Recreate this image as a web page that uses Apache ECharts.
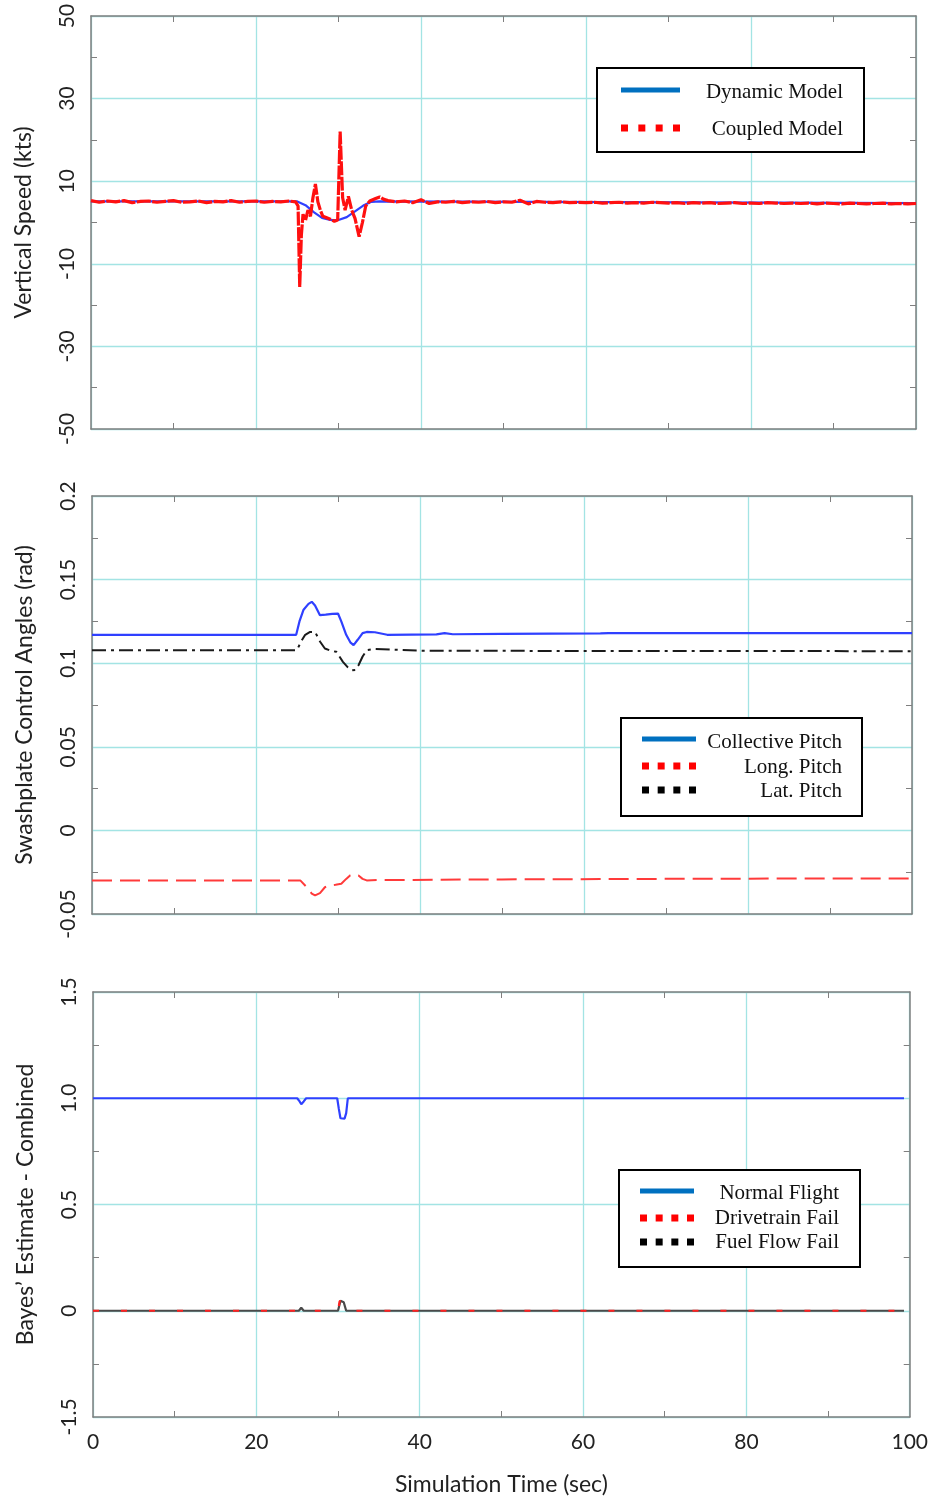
<!DOCTYPE html>
<html>
<head>
<meta charset="utf-8">
<script src="https://cdn.jsdelivr.net/npm/echarts@6/dist/echarts.min.js"></script>
<style>
html,body{margin:0;padding:0;background:#fff}
#chart{width:931px;height:1500px}
</style>
</head>
<body>
<div id="chart"></div>
<script>
// ---------- Panel 1: vertical speed (kts) ----------
const speedTicks = ['-50', '-30', '-10', '10', '30', '50'];
const dynamicModel = [
  [0, 5.1], [25, 5.1], [26, 4.2], [27, 2.5], [28, 1.1], [29, 0.6], [30, 0.6],
  [31, 1.3], [32, 2.7], [33, 4.1], [34, 5.0], [35, 5.1], [100, 4.7]
];
const coupledModel = [
  [0, 5.3], [1, 4.9], [2, 5.2], [3, 5.0], [4, 5.3], [5, 4.8], [6, 5.1], [7, 5.2], [8, 4.9],
  [9, 5.1], [10, 5.3], [11, 4.9], [12, 5.0], [13, 5.2], [14, 4.8], [15, 5.1], [16, 5.0],
  [17, 5.3], [18, 4.9], [19, 5.1], [20, 5.2], [21, 4.9], [22, 5.1], [23, 5.0], [24, 5.2],
  [24.8, 5.0], [25.1, 4.0], [25.3, -15.6], [25.5, -3], [25.7, 2], [26.0, 0.5], [26.3, 3],
  [26.6, 1.5], [26.9, 6], [27.2, 9.3], [27.5, 5], [27.8, 3], [28.1, 1.5], [28.5, 1.2],
  [29.0, 0.8], [29.5, 0.3], [29.9, 0.6], [30.2, 22], [30.5, 6], [30.8, 3], [31.2, 6.3],
  [31.6, 3], [32.0, 1], [32.5, -3.4], [32.9, 0], [33.3, 4], [33.8, 5.2], [34.5, 5.8],
  [35.0, 6.2], [35.5, 5.6], [36, 5.3],
  [37, 5.0], [38, 5.2], [39, 4.8], [40, 5.5], [41, 4.6], [42, 5.0], [43, 4.9], [44, 5.1],
  [45, 4.8], [46, 5.0], [47, 4.9], [48, 5.1], [49, 4.8], [50, 5.0], [51, 4.9], [52, 5.4],
  [53, 4.5], [54, 5.1], [55, 4.9], [56, 4.8], [57, 5.0], [58, 4.8], [59, 4.9], [60, 4.8],
  [61, 4.9], [62, 4.7], [63, 4.8], [64, 4.9], [65, 4.7], [66, 4.8], [67, 4.7], [68, 4.9],
  [69, 4.8], [70, 4.7], [71, 4.8], [72, 4.6], [73, 4.8], [74, 4.7], [75, 4.8], [76, 4.6],
  [77, 4.7], [78, 4.8], [79, 4.6], [80, 4.7], [81, 4.6], [82, 4.8], [83, 4.7], [84, 4.6],
  [85, 4.7], [86, 4.6], [87, 4.7], [88, 4.5], [89, 4.7], [90, 4.6], [91, 4.5], [92, 4.7],
  [93, 4.6], [94, 4.5], [95, 4.6], [96, 4.7], [97, 4.5], [98, 4.6], [99, 4.5], [100, 4.6]
];

// ---------- Panel 2: swashplate control angles (rad) ----------
const angleTicks = ['-0.05', '0', '0.05', '0.1', '0.15', '0.2'];
const collectivePitch = [
  [0, 0.117], [24.9, 0.117], [25.3, 0.125], [25.8, 0.132], [26.4, 0.1355], [26.8, 0.1367],
  [27.2, 0.1345], [27.8, 0.1287], [28.5, 0.129], [29.3, 0.1295], [30.0, 0.1297],
  [30.4, 0.125], [31.0, 0.117], [31.5, 0.1125], [31.9, 0.1108], [32.4, 0.114],
  [33.0, 0.118], [33.5, 0.1187], [34.5, 0.1185], [36, 0.117], [42, 0.1172], [43, 0.118],
  [44, 0.1173], [50, 0.1175], [62, 0.1178], [63, 0.118], [100, 0.118]
];
const latPitch = [
  [0, 0.1078], [25.0, 0.1078], [25.5, 0.113], [26.0, 0.117], [26.6, 0.1187], [27.2, 0.1187],
  [27.8, 0.113], [28.4, 0.1088], [29.1, 0.1075], [29.8, 0.1068], [30.6, 0.1008],
  [31.2, 0.0975], [31.7, 0.0958], [32.1, 0.096], [32.5, 0.0988], [33.0, 0.104],
  [33.5, 0.1078], [34.5, 0.1085], [40, 0.1075], [60, 0.1073], [100, 0.1072]
];
const longPitch = [
  [0, -0.0299], [25.4, -0.0299], [26.2, -0.034], [26.8, -0.0378], [27.2, -0.0389],
  [27.8, -0.0375], [28.4, -0.034], [29.0, -0.0329], [29.7, -0.0325], [30.4, -0.0319],
  [31.0, -0.029], [31.5, -0.0268], [31.9, -0.0263], [32.5, -0.027], [33.0, -0.029],
  [33.5, -0.0299], [35, -0.0297], [50, -0.0293], [75, -0.0289], [100, -0.0287]
];

// ---------- Panel 3: Bayes' estimate ----------
const bayesTicks = ['-1.5', '0', '0.5', '1.0', '1.5'];
const normalFlight = [
  [0, 1], [25.0, 1], [25.3, 0.985], [25.5, 0.972], [25.8, 0.985], [26.1, 1], [29.9, 1],
  [30.1, 0.95], [30.3, 0.906], [30.8, 0.904], [31.0, 0.93], [31.2, 1], [99.3, 1]
];
const drivetrainFail = [
  [0, 0], [25.2, 0], [25.5, 0.012], [25.8, 0], [30.0, 0], [30.2, 0.045], [30.5, 0.045],
  [30.8, 0.02], [31.0, 0], [99.3, 0]
];
const fuelFlowFail = [
  [0, 0], [25.2, 0], [25.5, 0.014], [25.8, 0], [30.0, 0], [30.3, 0.047], [30.7, 0.04],
  [31.0, 0], [99.3, 0]
];

// ---------- shared x axis ----------
const timeTicks = ['0', '20', '40', '60', '80', '100'];

// ---------- styling ----------
const FRAME = '#7f7f7f';
const GRIDLINE = '#a3e4e4';
const SANS = 'Lato';
const SERIF = '"Liberation Serif", "Times New Roman", serif';
const BLUE = '#2f40ff';
const LEGEND_BLUE = '#0070c0';

const panels = [
  { left: 91, top: 16, width: 825, height: 413 },
  { left: 92, top: 496, width: 820, height: 418 },
  { left: 93, top: 992, width: 819, height: 425 }
];

function tickLabel(labels, min, step) {
  return v => labels[Math.round((v - min) / step)] ?? '';
}

const xAxes = [];
const yAxes = [];
const yCfg = [
  { min: -50, max: 50, step: 20, labels: speedTicks, name: 'Vertical Speed (kts)' },
  { min: -0.05, max: 0.2, step: 0.05, labels: angleTicks, name: 'Swashplate Control Angles (rad)' },
  { min: -0.5, max: 1.5, step: 0.5, labels: bayesTicks, name: 'Bayes\u2019 Estimate - Combined' }
];

panels.forEach((p, i) => {
  const last = i === panels.length - 1;
  const common = {
    type: 'value', gridIndex: i, min: 0, max: 100, interval: 20,
    axisLine: { show: true, onZero: false, lineStyle: { color: FRAME, width: 1.5 } },
    axisTick: { show: false, inside: true },
    minorTick: { show: true, splitNumber: 2, length: 6, lineStyle: { color: FRAME, width: 1 } }
  };
  xAxes.push(Object.assign({}, common, {
    position: 'bottom',
    splitLine: { show: true, lineStyle: { color: GRIDLINE, width: 1.3 } },
    axisLabel: {
      show: last, margin: 15, color: '#222', fontFamily: SANS, fontSize: 21,
      formatter: tickLabel(timeTicks, 0, 20)
    },
    name: last ? 'Simulation Time (sec)' : '',
    nameLocation: 'middle', nameGap: 56,
    nameTextStyle: { color: '#222', fontFamily: SANS, fontSize: 23 }
  }));
  xAxes.push(Object.assign({}, common, {
    position: 'top', splitLine: { show: false }, axisLabel: { show: false }
  }));

  const c = yCfg[i];
  const ycommon = {
    type: 'value', gridIndex: i, min: c.min, max: c.max, interval: c.step,
    axisLine: { show: true, onZero: false, lineStyle: { color: FRAME, width: 1.5 } },
    axisTick: { show: false, inside: true },
    minorTick: { show: true, splitNumber: 2, length: 6, lineStyle: { color: FRAME, width: 1 } }
  };
  yAxes.push(Object.assign({}, ycommon, {
    position: 'left',
    splitLine: { show: true, lineStyle: { color: GRIDLINE, width: 1.3 } },
    axisLabel: {
      rotate: 90, margin: 13, color: '#222', fontFamily: SANS, fontSize: 21,
      formatter: tickLabel(c.labels, c.min, c.step)
    },
    name: c.name, nameLocation: 'middle', nameRotate: 90, nameGap: 56,
    nameTextStyle: { color: '#222', fontFamily: SANS, fontSize: 23 }
  }));
  yAxes.push(Object.assign({}, ycommon, {
    position: 'right', splitLine: { show: false }, axisLabel: { show: false }
  }));
});

function line(panel, data, color, width, type, z) {
  return {
    type: 'line', xAxisIndex: panel * 2, yAxisIndex: panel * 2, data: data,
    symbol: 'none', smooth: false, z: z || 2,
    lineStyle: { color: color, width: width, type: type || 'solid' }
  };
}

const series = [
  line(0, dynamicModel, BLUE, 2.2, 'solid', 2),
  line(0, coupledModel, '#ff1010', 3.2, [14, 1.5], 3),
  line(1, collectivePitch, BLUE, 2.2, 'solid', 2),
  line(1, latPitch, '#1a1a1a', 2, [14, 5, 3, 5], 3),
  line(1, longPitch, '#ff3a3a', 2, [20, 8], 3),
  line(2, normalFlight, BLUE, 2.2, 'solid', 2),
  line(2, fuelFlowFail, '#4a4a4a', 2.2, 'solid', 3),
  line(2, drivetrainFail, '#ff2020', 2.2, [6, 22], 4)
];

// ---------- legend boxes ----------
function legendBox(box, items) {
  const els = [{
    type: 'rect', shape: { x: box.x, y: box.y, width: box.w, height: box.h },
    style: { fill: '#fff', stroke: '#000', lineWidth: 2 }, z: 100
  }];
  items.forEach(it => {
    if (it.kind === 'solid') {
      els.push({
        type: 'line', shape: { x1: box.sx, y1: it.y, x2: box.sx + box.sw, y2: it.y },
        style: { stroke: LEGEND_BLUE, lineWidth: 5 }, z: 101
      });
    } else {
      const n = 4, size = 7, gap = (box.sw - size) / (n - 1);
      for (let k = 0; k < n; k++) {
        els.push({
          type: 'rect',
          shape: { x: box.sx + k * gap, y: it.y - size / 2, width: size, height: size },
          style: { fill: it.color }, z: 101
        });
      }
    }
    els.push({
      type: 'text', z: 101,
      style: {
        text: it.label, x: box.tx, y: it.ty, align: 'right', verticalAlign: 'middle',
        font: '21px ' + SERIF, fill: '#111'
      }
    });
  });
  return els;
}

const graphic = [].concat(
  legendBox({ x: 597, y: 68, w: 267, h: 84, sx: 621, sw: 59, tx: 843 }, [
    { kind: 'solid', y: 90, ty: 92, label: 'Dynamic Model' },
    { kind: 'dots', color: '#ff0000', y: 128, ty: 129, label: 'Coupled Model' }
  ]),
  legendBox({ x: 621, y: 718, w: 241, h: 98, sx: 642, sw: 54, tx: 842 }, [
    { kind: 'solid', y: 739, ty: 742, label: 'Collective Pitch' },
    { kind: 'dots', color: '#ff0000', y: 766, ty: 767, label: 'Long. Pitch' },
    { kind: 'dots', color: '#000000', y: 790, ty: 791, label: 'Lat. Pitch' }
  ]),
  legendBox({ x: 619, y: 1170, w: 241, h: 97, sx: 640, sw: 54, tx: 839 }, [
    { kind: 'solid', y: 1191, ty: 1193, label: 'Normal Flight' },
    { kind: 'dots', color: '#ff0000', y: 1218, ty: 1218, label: 'Drivetrain Fail' },
    { kind: 'dots', color: '#000000', y: 1242, ty: 1242, label: 'Fuel Flow Fail' }
  ])
);

const chart = echarts.init(document.getElementById('chart'), null, { renderer: 'canvas' });
chart.setOption({
  animation: false,
  backgroundColor: '#fff',
  grid: panels.map(p => Object.assign({ containLabel: false, show: false }, p)),
  xAxis: xAxes,
  yAxis: yAxes,
  series: series,
  graphic: graphic
});
</script>
</body>
</html>
